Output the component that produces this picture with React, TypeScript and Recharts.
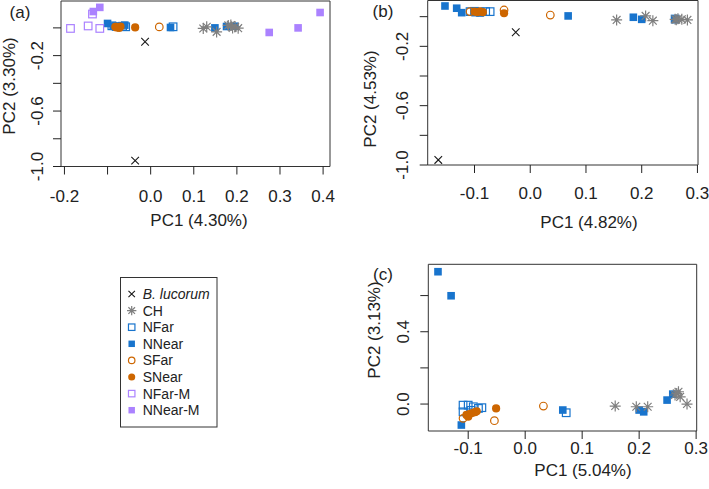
import React from "react";
import { ScatterChart, Scatter, XAxis, YAxis, ReferenceArea } from "recharts";

const W = 709;
const H = 489;
const FONT = '"Liberation Sans", Arial, Helvetica, sans-serif';
const INK = "#222";

// group order (legend order)
const GROUP_NAMES = ["B. lucorum", "CH", "NFar", "NNear", "SFar", "SNear", "NFar-M", "NNear-M"];

// ---- panel (a) ----
const aLucorum = [[-0.013, -0.1], [-0.036, -0.958]];
const aCH = [[0.122, -0.004], [0.13, 0.008], [0.153, -0.029], [0.18, 0.018], [0.186, 0.02], [0.19, 0.0], [0.196, 0.008], [0.203, -0.002]];
const aNFar = [[-0.09, 0.015], [-0.08, 0.01], [-0.065, 0.012], [-0.058, 0.008], [0.052, 0.008]];
const aNNear = [[-0.1, 0.032], [-0.087, 0.012], [-0.06, 0.02], [0.046, 0.003], [0.149, 0.0], [0.176, 0.01], [0.195, 0.012]];
const aSFar = [[-0.08, 0.006], [0.02, 0.007]];
const aSNear = [[-0.082, 0.008], [-0.076, 0.004], [-0.07, 0.01], [-0.073, 0.0], [-0.036, 0.003]];
const aNFarM = [[-0.186, -0.004], [-0.145, 0.014], [-0.118, -0.004], [-0.135, 0.1]];
const aNNearM = [[-0.133, 0.118], [-0.118, 0.148], [0.393, 0.111], [0.275, -0.033], [0.342, 0.0]];

// ---- panel (b) ----
const bLucorum = [[-0.026, -0.105], [-0.165, -0.966]];
const bCH = [[0.155, -0.022], [0.207, 0.005], [0.22, -0.027], [0.26, -0.018], [0.262, -0.02], [0.265, -0.014], [0.272, -0.018], [0.282, -0.022]];
const bNFar = [[-0.108, 0.034], [-0.1, 0.036], [-0.09, 0.032], [-0.08, 0.034], [-0.072, 0.034], [0.26, -0.016]];
const bNNear = [[-0.153, 0.072], [-0.132, 0.057], [-0.123, 0.027], [-0.099, 0.027], [-0.09, 0.025], [0.068, 0.005], [0.185, -0.004], [0.2, -0.018], [0.26, -0.018]];
const bSFar = [[-0.108, 0.034], [-0.047, 0.045], [0.036, 0.011]];
const bSNear = [[-0.1, 0.034], [-0.095, 0.03], [-0.09, 0.036], [-0.085, 0.03], [-0.047, 0.023]];

// ---- panel (c) ----
const cCH = [[0.158, -0.011], [0.195, -0.015], [0.215, -0.015], [0.284, 0.0], [0.266, 0.059], [0.269, 0.068], [0.272, 0.04], [0.263, 0.05]];
const cNFar = [[-0.109, -0.006], [-0.1, -0.006], [-0.091, -0.015], [-0.082, -0.024], [-0.076, -0.02], [-0.109, -0.043], [-0.095, -0.035], [0.072, -0.048]];
const cNNear = [[-0.153, 0.732], [-0.13, 0.599], [-0.112, -0.116], [0.066, -0.033], [0.2, -0.033], [0.208, -0.043], [0.249, 0.022], [0.259, 0.055]];
const cSFar = [[-0.109, -0.079], [-0.054, -0.092], [0.032, -0.011]];
const cSNear = [[-0.103, -0.06], [-0.098, -0.055], [-0.093, -0.05], [-0.088, -0.045], [-0.085, -0.04], [-0.1, -0.07], [-0.051, -0.024]];

// axis ticks and which of them carry a label
const abYTicks = [-1.0, -0.8, -0.6, -0.4, -0.2, 0.0];
const abYLabels = ["-1.0", "-0.6", "-0.2"];
const aXTicks = [-0.2, -0.1, 0.0, 0.1, 0.2, 0.3, 0.4];
const aXLabels = ["-0.2", "0.0", "0.1", "0.2", "0.3", "0.4"];
const bcXTicks = [-0.1, 0.0, 0.1, 0.2, 0.3];
const bcXLabels = ["-0.1", "0.0", "0.1", "0.2", "0.3"];
const cYTicks = [0.0, 0.2, 0.4, 0.6];
const cYLabels = ["0.0", "0.4"];

const STYLES: Record<string, { kind: string; color: string }> = {
  "B. lucorum": { kind: "cross", color: "#1a1a1a" },
  CH: { kind: "star", color: "#7f7f7f" },
  NFar: { kind: "sqOpen", color: "#1874CD" },
  NNear: { kind: "sq", color: "#1874CD" },
  SFar: { kind: "circOpen", color: "#CD6600" },
  SNear: { kind: "circ", color: "#CD6600" },
  "NFar-M": { kind: "sqOpen", color: "#AB82FF" },
  "NNear-M": { kind: "sq", color: "#AB82FF" },
};

const toPts = (a: number[][]) => a.map(([x, y]) => ({ x, y }));

const Marker = ({ cx, cy, kind, color, k = 1 }: any) => {
  if (cx == null || cy == null) return null;
  const s = 3.8 * k;
  switch (kind) {
    case "cross":
      return (
        <path
          d={`M${cx - s},${cy - s}L${cx + s},${cy + s}M${cx - s},${cy + s}L${cx + s},${cy - s}`}
          stroke={color}
          strokeWidth={1.1}
        />
      );
    case "star": {
      const r = 5.5 * k;
      const d = r * 0.707;
      return (
        <path
          d={`M${cx - r},${cy}L${cx + r},${cy}M${cx},${cy - r}L${cx},${cy + r}M${cx - d},${cy - d}L${cx + d},${cy + d}M${cx - d},${cy + d}L${cx + d},${cy - d}`}
          stroke={color}
          strokeWidth={1.2}
        />
      );
    }
    case "sqOpen":
      return <rect x={cx - s} y={cy - s} width={2 * s} height={2 * s} fill="none" stroke={color} strokeWidth={1.2} />;
    case "sq":
      return <rect x={cx - s} y={cy - s} width={2 * s} height={2 * s} fill={color} />;
    case "circOpen":
      return <circle cx={cx} cy={cy} r={s} fill="none" stroke={color} strokeWidth={1.2} />;
    default:
      return <circle cx={cx} cy={cy} r={s + 0.3} fill={color} />;
  }
};

const panels = [
  {
    box: { left: 61, right: 330, top: 1, bottom: 166.5 },
    xDomain: [-0.208, 0.416],
    yDomain: [-1.0, 0.194],
    xTicks: aXTicks,
    xLabels: aXLabels,
    yTicks: abYTicks,
    yLabels: abYLabels,
    xGap: 30,
    yGap: 24,
    series: [aLucorum, aCH, aNFar, aNNear, aSFar, aSNear, aNFarM, aNNearM],
  },
  {
    box: { left: 427.7, right: 698, top: 0.5, bottom: 165 },
    xDomain: [-0.184, 0.301],
    yDomain: [-1.0, 0.109],
    xTicks: bcXTicks,
    xLabels: bcXLabels,
    yTicks: abYTicks,
    yLabels: abYLabels,
    xGap: 28,
    yGap: 26,
    series: [bLucorum, bCH, bNFar, bNNear, bSFar, bSNear, [], []],
  },
  {
    box: { left: 428.3, right: 696.7, top: 264.3, bottom: 431 },
    xDomain: [-0.17, 0.301],
    yDomain: [-0.149, 0.773],
    xTicks: bcXTicks,
    xLabels: bcXLabels,
    yTicks: cYTicks,
    yLabels: cYLabels,
    xGap: 17,
    yGap: 25,
    series: [[], cCH, cNFar, cNNear, cSFar, cSNear, [], []],
  },
];

// R draws CH on top of the squares
const DRAW_ORDER = [0, 2, 3, 4, 5, 1, 6, 7];

const Panel = ({ cfg }: any) => {
  const { box } = cfg;
  const margin = {
    top: box.top,
    left: box.left - 40,
    right: W - box.right,
    bottom: H - box.bottom - 40,
  };
  return (
    <div style={{ position: "absolute", left: 0, top: 0 }}>
      <ScatterChart width={W} height={H} margin={margin}>
        <XAxis
          type="number"
          dataKey="x"
          domain={cfg.xDomain}
          ticks={cfg.xTicks}
          interval={0}
          allowDataOverflow
          height={40}
          axisLine={false}
          tickSize={8}
          tickMargin={cfg.xGap - 8}
          tickLine={{ stroke: INK }}
          tick={(p: any) => {
            const lab = Number(p.payload.value).toFixed(1);
            if (!cfg.xLabels.includes(lab)) return <g />;
            return (
              <text x={p.x} y={p.y} dy="0.35em" textAnchor="middle" fontSize={17} fontFamily={FONT} fill={INK}>
                {lab}
              </text>
            );
          }}
        />
        <YAxis
          type="number"
          dataKey="y"
          domain={cfg.yDomain}
          ticks={cfg.yTicks}
          interval={0}
          allowDataOverflow
          width={40}
          axisLine={false}
          tickSize={8}
          tickMargin={cfg.yGap - 8}
          tickLine={{ stroke: INK }}
          tick={(p: any) => {
            const lab = Number(p.payload.value).toFixed(1);
            if (!cfg.yLabels.includes(lab)) return <g />;
            return (
              <text
                x={p.x}
                y={p.y}
                dy="0.35em"
                textAnchor="middle"
                transform={`rotate(-90, ${p.x}, ${p.y})`}
                fontSize={17}
                fontFamily={FONT}
                fill={INK}
              >
                {lab}
              </text>
            );
          }}
        />
        <ReferenceArea
          x1={cfg.xDomain[0]}
          x2={cfg.xDomain[1]}
          y1={cfg.yDomain[0]}
          y2={cfg.yDomain[1]}
          fill="none"
          stroke="#333"
          strokeWidth={1}
          ifOverflow="visible"
        />
        {DRAW_ORDER.map((gi) => {
          const name = GROUP_NAMES[gi];
          const st = STYLES[name];
          return (
            <Scatter
              key={name}
              name={name}
              data={toPts(cfg.series[gi])}
              isAnimationActive={false}
              shape={(p: any) => <Marker cx={p.cx} cy={p.cy} kind={st.kind} color={st.color} />}
            />
          );
        })}
      </ScatterChart>
    </div>
  );
};

const txt = (x: number, y: number, s: string, rot = false, size = 17) => (
  <text
    key={s}
    x={x}
    y={y}
    dy="0.35em"
    textAnchor="middle"
    fontSize={size}
    fontFamily={FONT}
    fill={INK}
    transform={rot ? `rotate(-90, ${x}, ${y})` : undefined}
  >
    {s}
  </text>
);

export default function App() {
  return (
    <div style={{ position: "relative", width: W, height: H, background: "#fff" }}>
      <style>{"body{margin:0;background:#fff}"}</style>
      {panels.map((cfg, i) => (
        <Panel key={i} cfg={cfg} />
      ))}
      <svg width={W} height={H} style={{ position: "absolute", left: 0, top: 0, pointerEvents: "none" }}>
        {/* panel tags */}
        {txt(20, 12, "(a)")}
        {txt(383, 11, "(b)")}
        {txt(383, 274, "(c)")}
        {/* axis titles */}
        {txt(9, 86, "PC2 (3.30%)", true)}
        {txt(199, 220, "PC1 (4.30%)")}
        {txt(370, 99, "PC2 (4.53%)", true)}
        {txt(589, 222, "PC1 (4.82%)")}
        {txt(374, 330, "PC2 (3.13%)", true)}
        {txt(583, 470, "PC1 (5.04%)")}
        {/* legend */}
        <rect x={120.5} y={277.5} width={96.5} height={149.5} fill="#fff" stroke="#333" strokeWidth={1} />
        {GROUP_NAMES.map((name, i) => {
          const y = 294 + i * 16.6;
          const st = STYLES[name];
          return (
            <g key={name}>
              <Marker cx={131.7} cy={y} kind={st.kind} color={st.color} k={0.85} />
              <text
                x={142.7}
                y={y}
                dy="0.35em"
                fontSize={14}
                fontFamily={FONT}
                fill={INK}
                fontStyle={i === 0 ? "italic" : "normal"}
              >
                {name}
              </text>
            </g>
          );
        })}
      </svg>
    </div>
  );
}
